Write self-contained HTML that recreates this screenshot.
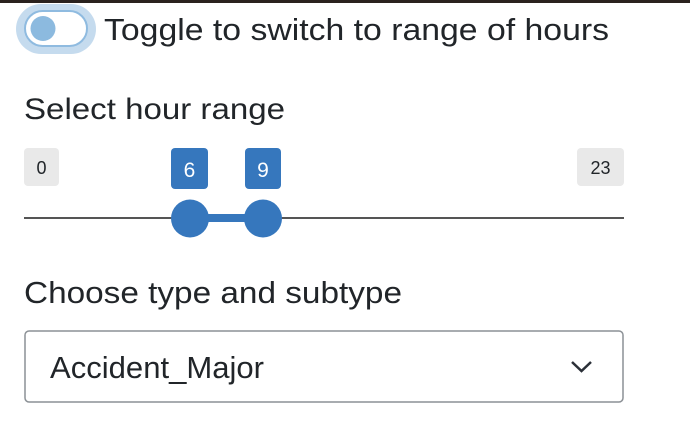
<!DOCTYPE html>
<html><head><meta charset="utf-8"><style>
html,body{margin:0;padding:0;background:#fff;width:690px;height:442px;overflow:hidden}
svg{display:block}
text{font-family:"Liberation Sans","DejaVu Sans",sans-serif;fill:#212529}
</style></head><body>
<svg width="690" height="442" viewBox="0 0 690 442">
<rect x="0" y="0" width="690" height="3" fill="#2a221e"/>
<rect x="16" y="4" width="80" height="50" rx="25" fill="#c5dbee"/>
<rect x="25" y="11" width="62" height="35" rx="17.5" fill="#fff" stroke="#8fbbe0" stroke-width="2"/>
<circle cx="43" cy="28.5" r="12.5" fill="#8cbadf"/>
<text x="104" y="40" font-size="31" textLength="505" lengthAdjust="spacingAndGlyphs">Toggle to switch to range of hours</text>
<text x="24" y="119" font-size="30" textLength="261" lengthAdjust="spacingAndGlyphs">Select hour range</text>
<rect x="24" y="148" width="35" height="38" rx="4" fill="#e9e9e9"/>
<text x="41.5" y="174" font-size="18" text-anchor="middle">0</text>
<rect x="577" y="148" width="47" height="38" rx="4" fill="#e9e9e9"/>
<text x="600.5" y="174" font-size="18" text-anchor="middle">23</text>
<rect x="171" y="148" width="37" height="41" rx="4" fill="#3677bd"/>
<text x="189.5" y="177" font-size="21" text-anchor="middle" style="fill:#fff">6</text>
<rect x="245" y="148" width="36" height="41" rx="4" fill="#3677bd"/>
<text x="263" y="177" font-size="21" text-anchor="middle" style="fill:#fff">9</text>
<rect x="24" y="217" width="600" height="2" fill="#555"/>
<rect x="190" y="214" width="73" height="8" fill="#3677bd"/>
<circle cx="190" cy="218.5" r="19" fill="#3677bd"/>
<circle cx="263" cy="218.5" r="19" fill="#3677bd"/>
<text x="24" y="303" font-size="31" textLength="378" lengthAdjust="spacingAndGlyphs">Choose type and subtype</text>
<rect x="25" y="331" width="598" height="71" rx="4" fill="#fff" stroke="#8c9196" stroke-width="1.5"/>
<text x="50" y="378" font-size="31" textLength="214" lengthAdjust="spacingAndGlyphs">Accident_Major</text>
<polyline points="572,362 581.5,371 591,362" fill="none" stroke="#2b3038" stroke-width="2.5"/>
</svg>
</body></html>
